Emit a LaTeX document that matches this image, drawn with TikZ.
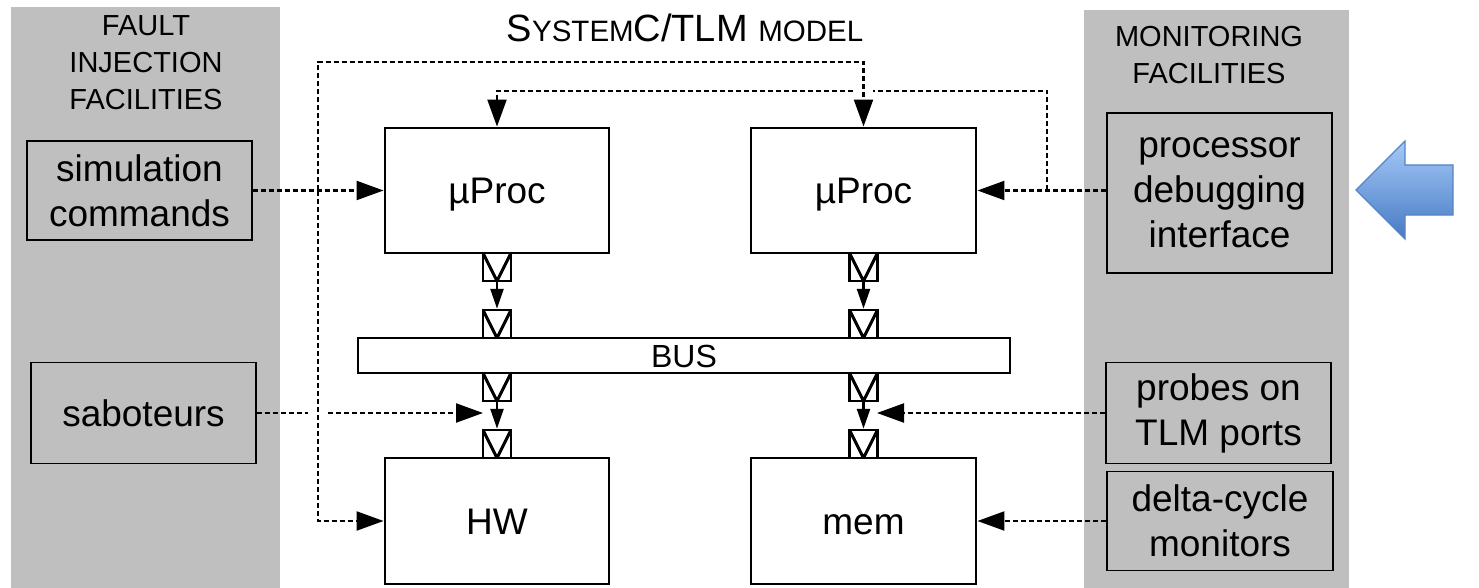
\documentclass[tikz,border=0pt]{standalone}
\usepackage{fontspec}
\setmainfont{Liberation Sans}
\usetikzlibrary{arrows.meta}
\definecolor{panelgray}{RGB}{191,191,191}
\definecolor{blueTop}{RGB}{166,201,248}
\definecolor{blueBot}{RGB}{70,122,196}
\definecolor{blueEdge}{RGB}{84,132,196}
\begin{document}
\begin{tikzpicture}[x=1pt,y=-1pt,
  mainbox/.style={draw, line width=2.9pt, fill=white, inner sep=0pt, align=center, text height=26.5pt, text depth=0pt, font=\fontsize{37}{45}\selectfont},
  facbox/.style={draw, line width=1.4pt, fill=panelgray, inner sep=0pt, align=center, font=\fontsize{37}{45}\selectfont},
  grouplabel/.style={inner sep=0pt, align=center, font=\fontsize{29}{37}\selectfont},
  port/.style={draw, line width=2.5pt, fill=white, minimum width=28pt, minimum height=28pt, inner sep=0pt,
    path picture={\draw[line width=3pt] (path picture bounding box.north west) -- (path picture bounding box.south) -- (path picture bounding box.north east);}},
  sigline/.style={line width=2.2pt, dash pattern=on 5pt off 3pt},
  sig/.style={sigline, -{Triangle[length=27pt,width=19pt]}},
  solidarr/.style={line width=2.6pt, -{Triangle[length=20pt,width=13pt]}}
]
\useasboundingbox (0,0) rectangle (1479,588);
% panels
\fill[panelgray] (11,7) rectangle (280,588);
\fill[panelgray] (1084,10) rectangle (1349,588);
% titles
\node[anchor=base, inner sep=0pt, font=\fontsize{38}{38}\selectfont] (title) at (685,42)
  {S{\fontsize{29.5}{30}\selectfont YSTEM}C/TLM {\fontsize{29.5}{30}\selectfont MODEL}};
\node[grouplabel, anchor=north] (fault) at (146,15) {FAULT\\INJECTION\\FACILITIES};
\node[grouplabel, anchor=north] (monit) at (1209,26) {MONITORING\\FACILITIES};
% facility boxes
\node[facbox, minimum width=225pt, minimum height=99pt] (sim) at (139.5,190.5) {simulation\\commands};
\node[facbox, minimum width=225pt, minimum height=101pt] (sab) at (143.5,413) {saboteurs};
\node[facbox, minimum width=225pt, minimum height=160pt] (pdi) at (1219.5,193) {processor\\debugging\\interface};
\node[facbox, minimum width=225pt, minimum height=101pt] (probes) at (1218.5,413) {probes on\\TLM ports};
\node[facbox, minimum width=226pt, minimum height=99pt] (delta) at (1220,521) {delta-cycle\\monitors};
% main boxes
\node[mainbox, minimum width=224pt, minimum height=125pt] (upL) at (497,190.5) {µProc};
\node[mainbox, minimum width=225pt, minimum height=125pt] (upR) at (863.5,190.5) {µProc};
\node[mainbox, minimum width=224pt, minimum height=126pt] (hw) at (497,521) {HW};
\node[mainbox, minimum width=225pt, minimum height=126pt] (mem) at (863.5,521) {mem};
\node[mainbox, minimum width=652pt, minimum height=35pt, text height=23pt, font=\fontsize{32}{32}\selectfont] (bus) at (684,355.5) {BUS};
% ports
\node[port] (pL1) at (497,267) {};
\node[port] (pL2) at (497,324) {};
\node[port] (pL3) at (497,387) {};
\node[port] (pL4) at (497,444) {};
\node[port] (pR1) at (863.5,267) {};
\node[port] (pR2) at (863.5,324) {};
\node[port] (pR3) at (863.5,387) {};
\node[port] (pR4) at (863.5,444) {};
\draw[solidarr] (pL1.south) -- (pL2.north);
\draw[solidarr] (pL3.south) -- (pL4.north);
\draw[solidarr] (pR1.south) -- (pR2.north);
\draw[solidarr] (pR3.south) -- (pR4.north);
% fault injection connectors
\coordinate (j1) at (318,190.5);
\coordinate (c1) at (318,62);
\draw[sig] (sim.east) -- (upL.west);
\draw[sig] (j1) -- (c1) -| (upR.north);
\draw[sig] (j1) |- (hw.west);
\coordinate (h1) at (308,413);
\coordinate (h2) at (328,413);
\coordinate (sabtip) at (483,413);
\draw[sigline] (sab.east) -- (h1);
\draw[sig] (h2) -- (sabtip);
% monitoring connectors
\coordinate (j2) at (1047,190.5);
\coordinate (c2) at (1047,91);
\coordinate (g1) at (873,91);
\coordinate (g2) at (853,91);
\draw[sig] (pdi.west |- upR.east) -- (upR.east);
\draw[sigline] (j2) -- (c2) -- (g1);
\draw[sig] (g2) -| (upL.north);
\coordinate (prtip) at (877,413);
\draw[sig] (probes.west) -- (prtip);
\draw[sig] (delta.west) -- (mem.east);
% big blue arrow
\shade[top color=blueTop, bottom color=blueBot, draw=blueEdge, line width=1.2pt, line join=miter]
  (1356,190) -- (1405,141) -- (1405,165) -- (1453,165) -- (1453,215) -- (1405,215) -- (1405,239) -- cycle;
\end{tikzpicture}
\end{document}
